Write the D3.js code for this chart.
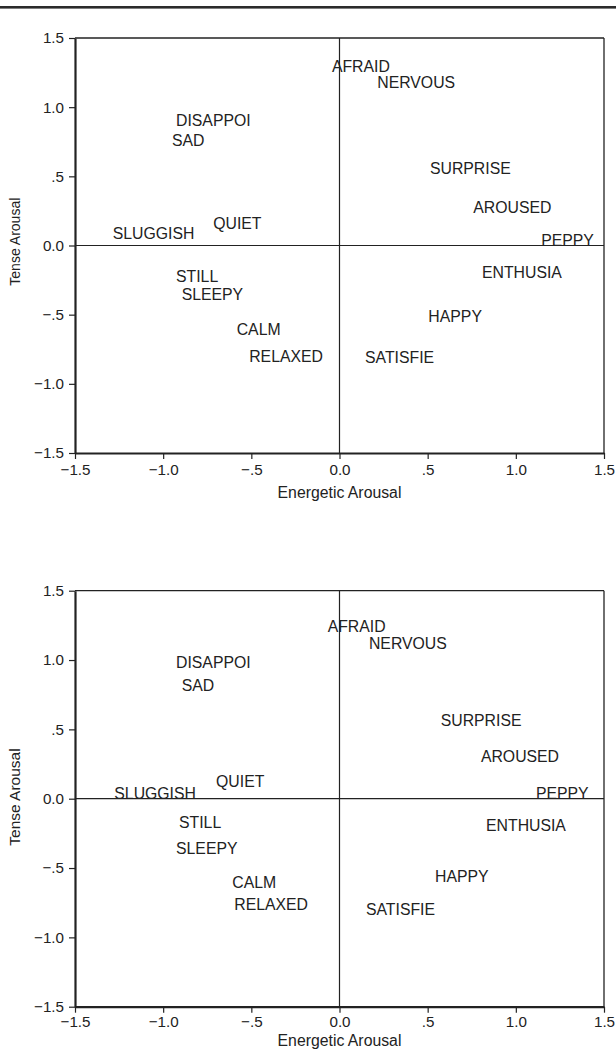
<!DOCTYPE html>
<html>
<head>
<meta charset="utf-8">
<script src="https://cdn.jsdelivr.net/npm/d3@7"></script>
<style>
  html, body { margin: 0; padding: 0; background: #fff; }
  svg { display: block; font-family: "Liberation Sans", Arial, Helvetica, sans-serif; }
</style>
</head>
<body>
<svg id="chart" width="616" height="1051"></svg>
<script>
// Mood adjectives placed in the Energetic / Tense arousal space (two solutions)
const words = ["AFRAID", "NERVOUS", "DISAPPOI", "SAD", "SURPRISE", "AROUSED", "SLUGGISH", "QUIET",
               "PEPPY", "STILL", "SLEEPY", "ENTHUSIA", "CALM", "HAPPY", "RELAXED", "SATISFIE"];

// Solution 1 coordinates (energetic, tense)
const energetic1 = [-0.043, 0.214, -0.927, -0.950, 0.513, 0.759, -1.286, -0.716,
                     1.144, -0.927, -0.895, 0.808, -0.583, 0.504, -0.512, 0.145];
const tense1     = [ 1.256, 1.141, 0.864, 0.719, 0.517, 0.233, 0.047, 0.119,
                     0.000, -0.266, -0.394, -0.237, -0.647, -0.555, -0.840, -0.852];

// Solution 2 coordinates (energetic, tense)
const energetic2 = [-0.067, 0.167, -0.927, -0.895, 0.574, 0.802, -1.277, -0.700,
                     1.114, -0.910, -0.927, 0.831, -0.608, 0.542, -0.597, 0.150];
const tense2     = [ 1.199, 1.080, 0.943, 0.774, 0.526, 0.262, 0.000, 0.084,
                     0.000, -0.211, -0.399, -0.231, -0.644, -0.604, -0.800, -0.839];

// Axis ticks
const tickValues = [-1.5, -1.0, -0.5, 0.0, 0.5, 1.0, 1.5];
const tickLabels = ["\u22121.5", "\u22121.0", "\u2212.5", "0.0", ".5", "1.0", "1.5"];

const xTitle = "Energetic Arousal";
const yTitle = "Tense Arousal";

const ink = "#222";
const svg = d3.select("#chart");

// heavy rule across the top of the page
svg.append("rect").attr("x", 0).attr("y", 6).attr("width", 616).attr("height", 2.6).attr("fill", "#2b2b2b");

const panels = [
  { xs: energetic1, ys: tense1, top: 38, bottom: 453, xLabY: 475, xTitleY: 498.3, yTitleY: 241.7, yTitleSize: 14 },
  { xs: energetic2, ys: tense2, top: 590.7, bottom: 1006.7, xLabY: 1026.7, xTitleY: 1045.5, yTitleY: 797, yTitleSize: 15.5 }
];

const left = 75, right = 604;
const fmt = v => tickLabels[tickValues.indexOf(v)];

panels.forEach(p => {
  const x = d3.scaleLinear().domain([-1.5, 1.5]).range([left, right]);
  const y = d3.scaleLinear().domain([-1.5, 1.5]).range([p.bottom, p.top]);
  const g = svg.append("g");

  // frame: top and right thin, zero lines thin
  g.append("line").attr("x1", left).attr("x2", right).attr("y1", p.top).attr("y2", p.top)
    .attr("stroke", ink).attr("stroke-width", 1.3);
  g.append("line").attr("x1", right).attr("x2", right).attr("y1", p.top).attr("y2", p.bottom)
    .attr("stroke", ink).attr("stroke-width", 1.3);
  g.append("line").attr("x1", left).attr("x2", right).attr("y1", y(0)).attr("y2", y(0))
    .attr("stroke", ink).attr("stroke-width", 1.2);
  g.append("line").attr("x1", x(0)).attr("x2", x(0)).attr("y1", p.top).attr("y2", p.bottom)
    .attr("stroke", ink).attr("stroke-width", 1.2);

  // axes
  const ax = g.append("g").attr("transform", `translate(0,${p.bottom})`)
    .call(d3.axisBottom(x).tickValues(tickValues).tickFormat(fmt).tickSize(6).tickSizeOuter(0));
  const ay = g.append("g").attr("transform", `translate(${left},0)`)
    .call(d3.axisLeft(y).tickValues(tickValues).tickFormat(fmt).tickSize(6).tickSizeOuter(0));

  [ax, ay].forEach(a => {
    a.select(".domain").attr("stroke", ink).attr("stroke-width", 2.2);
    a.selectAll(".tick line").attr("stroke", ink).attr("stroke-width", 1.2);
    a.selectAll(".tick text").attr("fill", ink).attr("font-size", 15.2)
      .attr("font-family", "'Liberation Sans', Arial, sans-serif");
  });
  ax.selectAll(".tick text").attr("y", p.xLabY - p.bottom).attr("dy", null);
  ay.selectAll(".tick text").attr("x", -11);

  // axis titles
  g.append("text").attr("x", x(0)).attr("y", p.xTitleY).attr("text-anchor", "middle")
    .attr("font-size", 15.8).attr("fill", ink).text(xTitle);
  g.append("text").attr("transform", `translate(20,${p.yTitleY}) rotate(-90)`)
    .attr("text-anchor", "middle").attr("font-size", p.yTitleSize).attr("fill", ink).text(yTitle);

  // word labels
  g.append("g").selectAll("text").data(words).join("text")
    .attr("x", (d, i) => x(p.xs[i]))
    .attr("y", (d, i) => y(p.ys[i]))
    .attr("font-size", 15.8).attr("fill", ink)
    .text(d => d);
});
</script>
</body>
</html>
